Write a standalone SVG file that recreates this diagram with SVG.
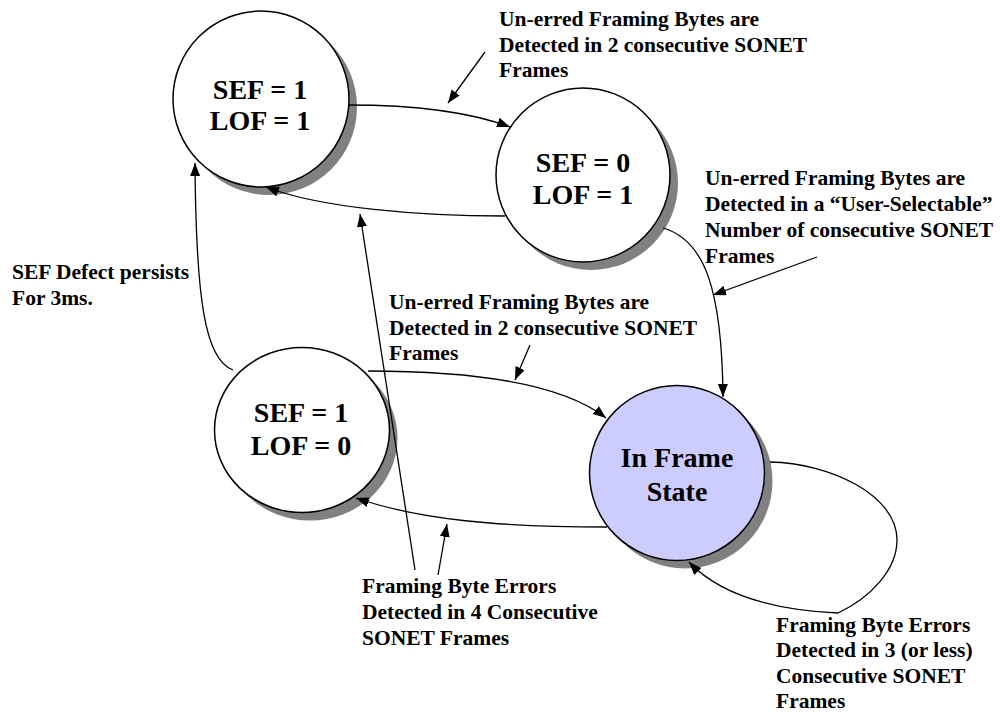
<svg xmlns="http://www.w3.org/2000/svg" width="1001" height="713" viewBox="0 0 1001 713">
<style>
.st{fill:#fff;stroke:#000;stroke-width:1.5}
.sh{fill:#808080;stroke:none}
.nt{font-family:"Liberation Serif","Times New Roman",serif;font-weight:bold;font-size:28px;text-anchor:middle;fill:#000}
.lb{font-family:"Liberation Serif","Times New Roman",serif;font-weight:bold;font-size:21.5px;fill:#000}
.cn{fill:none;stroke:#000;stroke-width:1.3;marker-end:url(#ah)}
</style>
<defs>
<marker id="ah" markerUnits="userSpaceOnUse" markerWidth="14" markerHeight="12" refX="13" refY="5" orient="auto">
<path d="M0,0 L13,5 L0,10 Z" fill="#000"/>
</marker>
</defs>
<rect width="1001" height="713" fill="#fff"/>
<g id="node-sef1-lof1">
<circle class="sh" cx="269" cy="107" r="88"/>
<circle class="st" cx="261" cy="99" r="88"/>
<text class="nt" x="260" y="99">SEF = 1</text>
<text class="nt" x="260" y="130">LOF = 1</text>
</g>
<g id="node-sef0-lof1">
<circle class="sh" cx="591" cy="183" r="87"/>
<circle class="st" cx="583" cy="175" r="87"/>
<text class="nt" x="583" y="172">SEF = 0</text>
<text class="nt" x="583" y="204">LOF = 1</text>
</g>
<g id="node-sef1-lof0">
<ellipse class="sh" cx="310" cy="438" rx="87.5" ry="82.5"/>
<ellipse class="st" cx="302" cy="430" rx="87.5" ry="82.5"/>
<text class="nt" x="301" y="422">SEF = 1</text>
<text class="nt" x="301" y="455">LOF = 0</text>
</g>
<g id="node-inframe">
<circle class="sh" cx="685" cy="481" r="87.5"/>
<circle cx="677" cy="473" r="87.5" fill="#ccccff" stroke="#000" stroke-width="1.5"/>
<text class="nt" x="677" y="467">In Frame</text>
<text class="nt" x="677" y="501">State</text>
</g>
<g id="connectors">
<path class="cn" d="M348,105 C420,105 470,112 510,127"/>
<path class="cn" d="M505,216 C420,216 320,208 266,187"/>
<path class="cn" d="M233,370 C205,360 196,300 195,163"/>
<path class="cn" d="M368,371 C470,371 560,382 606,418"/>
<path class="cn" d="M663,228 C705,240 722,290 723,397"/>
<path class="cn" d="M607,527 C500,527 420,520 356,498"/>
<path class="cn" d="M770,462 C830,463 897,495 897,540 C897,570 870,598 838,613 C775,610 720,595 689,562"/>
<path class="cn" d="M485,52 L448,103"/>
<path class="cn" d="M530,345 L515,380"/>
<path class="cn" d="M817,257 L713,295"/>
<path class="cn" d="M415,570 L360,214"/>
<path class="cn" d="M438,575 L447,524"/>
</g>
<g id="labels">
<text class="lb" x="499" y="26">Un-erred Framing Bytes are</text>
<text class="lb" x="499" y="52">Detected in 2 consecutive SONET</text>
<text class="lb" x="499" y="77">Frames</text>
<text class="lb" x="705" y="185">Un-erred Framing Bytes are</text>
<text class="lb" x="705" y="211">Detected in a “User-Selectable”</text>
<text class="lb" x="705" y="237">Number of consecutive SONET</text>
<text class="lb" x="705" y="263">Frames</text>
<text class="lb" x="12" y="279">SEF Defect persists</text>
<text class="lb" x="12" y="305">For 3ms.</text>
<text class="lb" x="389" y="309">Un-erred Framing Bytes are</text>
<text class="lb" x="389" y="335">Detected in 2 consecutive SONET</text>
<text class="lb" x="389" y="360">Frames</text>
<text class="lb" x="362" y="593">Framing Byte Errors</text>
<text class="lb" x="362" y="619">Detected in 4 Consecutive</text>
<text class="lb" x="362" y="645">SONET Frames</text>
<text class="lb" x="776" y="632">Framing Byte Errors</text>
<text class="lb" x="776" y="657">Detected in 3 (or less)</text>
<text class="lb" x="776" y="683">Consecutive SONET</text>
<text class="lb" x="776" y="708">Frames</text>
</g>
</svg>
